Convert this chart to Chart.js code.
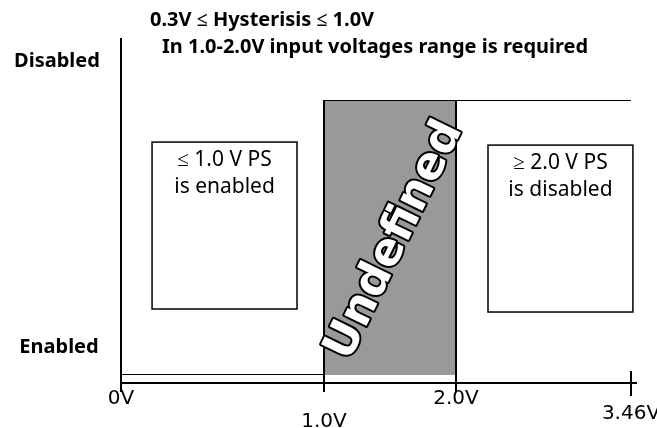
<!DOCTYPE html>
<html>
<head>
<meta charset="utf-8">
<script src="https://cdn.jsdelivr.net/npm/chart.js@4.4.1/dist/chart.umd.min.js"></script>
<style>
  html, body { margin: 0; padding: 0; background: #fff; }
  #wrap { width: 657px; height: 428px; }
</style>
</head>
<body>
<div id="wrap"><canvas id="diagram"></canvas></div>
<script>
// input voltage ticks on the x axis
const voltTicks = [0, 1.0, 2.0, 3.46]
const tickLabels = ['0V', '1.0V', '2.0V', '3.46V']
// PS state levels
const levelNames = ['Enabled', 'Disabled']
const levelValues = [0, 1]
// signal pieces (x in volts, y in level)
const enabledLine = [{ x: 0, y: 0 }, { x: 2.0, y: 0 }]
const disabledLine = [{ x: 1.0, y: 1 }, { x: 3.46, y: 1 }]
const undefinedBand = [{ x: 1.0, y: 0 }, { x: 1.0, y: 1 }, { x: 2.0, y: 1 }, { x: 2.0, y: 0 }]
const titleLines = ['0.3V ≤ Hysterisis ≤ 1.0V', 'In 1.0-2.0V input voltages range is required']
const enabledBoxText = ['≤ 1.0 V PS', 'is enabled']
const disabledBoxText = ['≥ 2.0 V PS', 'is disabled']
const bandLabel = 'Undefined'

// the drawing is schematic: each tick interval gets its own width
class SchematicScale extends Chart.LinearScale {
  _segment(value) {
    const stops = this.options.stops
    let i = 0
    while (i < stops.length - 2 && value > stops[i + 1]) i++
    return i
  }
  getPixelForValue(value) {
    if (value === null || value === undefined) return NaN
    const stops = this.options.stops
    const w = this.options.weights
    const total = w.reduce((a, b) => a + b, 0)
    const i = this._segment(value)
    let acc = 0
    for (let k = 0; k < i; k++) acc += w[k]
    const frac = (value - stops[i]) / (stops[i + 1] - stops[i])
    return this.left + ((acc + frac * w[i]) / total) * this.width
  }
  getValueForPixel(pixel) {
    const stops = this.options.stops
    const w = this.options.weights
    const total = w.reduce((a, b) => a + b, 0)
    let pos = ((pixel - this.left) / this.width) * total
    for (let i = 0; i < w.length; i++) {
      if (pos <= w[i] || i === w.length - 1) return stops[i] + (pos / w[i]) * (stops[i + 1] - stops[i])
      pos -= w[i]
    }
  }
}
SchematicScale.id = 'schematic'
SchematicScale.defaults = Chart.LinearScale.defaults
Chart.register(SchematicScale)

const decorations = {
  id: 'decorations',
  afterDatasetsDraw(chart) {
    const { ctx } = chart
    const x = chart.scales.x
    const y = chart.scales.y
    const bottom = y.getPixelForValue(levelValues[0])
    const top = y.getPixelForValue(levelValues[1])
    const x0 = x.getPixelForValue(voltTicks[0])
    const xEnd = x.getPixelForValue(voltTicks[3])
    ctx.save()
    ctx.strokeStyle = '#000'
    ctx.lineWidth = 2
    ctx.lineCap = 'butt'

    // axes
    ctx.beginPath()
    ctx.moveTo(x0, 38)
    ctx.lineTo(x0, bottom + 17)
    ctx.moveTo(x0, bottom + 8)
    ctx.lineTo(xEnd + 6, bottom + 8)
    ctx.moveTo(x.getPixelForValue(voltTicks[1]), bottom)
    ctx.lineTo(x.getPixelForValue(voltTicks[1]), bottom + 17)
    ctx.moveTo(x.getPixelForValue(voltTicks[2]), bottom)
    ctx.lineTo(x.getPixelForValue(voltTicks[2]), bottom + 17)
    ctx.moveTo(xEnd, bottom - 4)
    ctx.lineTo(xEnd, bottom + 21)
    ctx.stroke()

    // tick labels, staggered like the original
    ctx.fillStyle = '#000'
    ctx.font = '20px "DejaVu Sans"'
    ctx.textAlign = 'center'
    ctx.textBaseline = 'middle'
    const drop = [24, 47, 24, 39]
    voltTicks.forEach((v, i) => {
      ctx.fillText(tickLabels[i], x.getPixelForValue(v), bottom + drop[i])
    })

    // level labels
    ctx.font = 'bold 20px "Noto Sans"'
    ctx.fillText(levelNames[1], 57, top - 39)
    ctx.fillText(levelNames[0], 59, bottom - 28)

    // title
    ctx.textAlign = 'left'
    ctx.fillText(titleLines[0], 150, 20)
    ctx.fillText(titleLines[1], 162, 47)

    // state boxes
    const box = (xa, xb, ya, yb, lines) => {
      const l = x.getPixelForValue(xa), r = x.getPixelForValue(xb)
      const t = y.getPixelForValue(ya), b = y.getPixelForValue(yb)
      ctx.lineWidth = 1.5
      ctx.strokeRect(l, t, r - l, b - t)
      ctx.font = '21px "Noto Sans"'
      ctx.textAlign = 'center'
      lines.forEach((s, i) => ctx.fillText(s, (l + r) / 2, t + 18 + i * 27))
    }
    box(0.153, 0.867, 0.847, 0.24, enabledBoxText)
    box(2.267, 3.476, 0.836, 0.229, disabledBoxText)

    // rotated band label
    const cx = x.getPixelForValue((voltTicks[1] + voltTicks[2]) / 2)
    const cy = y.getPixelForValue(0.5)
    ctx.translate(cx + 5, cy + 3)
    ctx.rotate(-64 * Math.PI / 180)
    ctx.font = 'bold 45px "DejaVu Sans"'
    ctx.textAlign = 'center'
    ctx.lineJoin = 'round'
    ctx.lineWidth = 4
    ctx.strokeText(bandLabel, 0, 0)
    ctx.fillStyle = '#fff'
    ctx.fillText(bandLabel, 0, 0)
    ctx.restore()
  }
}

new Chart(document.getElementById('diagram'), {
  type: 'line',
  data: {
    datasets: [
      {
        label: 'Undefined',
        data: undefinedBand,
        fill: 'origin',
        backgroundColor: '#999999',
        borderColor: '#000',
        borderWidth: 2,
        pointRadius: 0,
        tension: 0,
      },
      {
        label: 'Enabled',
        data: enabledLine,
        borderColor: '#000',
        borderWidth: 2,
        pointRadius: 0,
        fill: false,
      },
      {
        label: 'Disabled',
        data: disabledLine,
        borderColor: '#000',
        borderWidth: 2,
        pointRadius: 0,
        fill: false,
      },
    ],
  },
  options: {
    responsive: true,
    maintainAspectRatio: false,
    animation: false,
    layout: { padding: { left: 121, right: 26, top: 100, bottom: 53 } },
    plugins: { legend: { display: false }, tooltip: { enabled: false } },
    scales: {
      x: {
        type: 'schematic',
        min: 0,
        max: 3.46,
        stops: voltTicks,
        weights: [203, 132, 175],
        display: false,
      },
      y: { type: 'linear', min: 0, max: 1, display: false },
    },
  },
  plugins: [decorations],
})
</script>
</body>
</html>
